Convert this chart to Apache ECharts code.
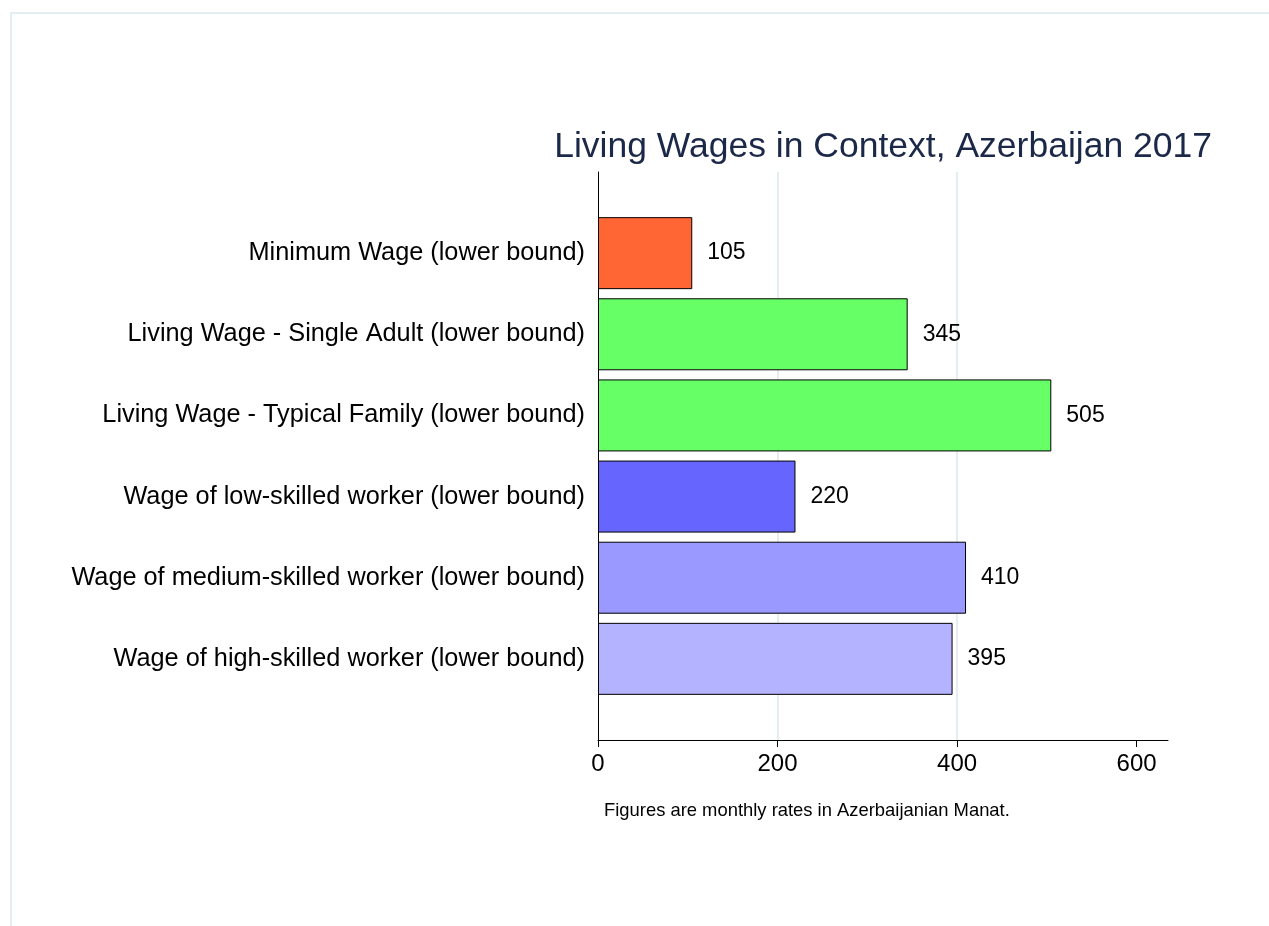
<!DOCTYPE html>
<html>
<head>
<meta charset="utf-8">
<script src="https://cdn.jsdelivr.net/npm/echarts@6/dist/echarts.min.js"></script>
<style>
html,body{margin:0;padding:0;background:#fff;}
#chart{width:1269px;height:926px;}
</style>
</head>
<body>
<div id="chart"></div>
<script>
const categories = [
  'Minimum Wage (lower bound)',
  'Living Wage - Single Adult (lower bound)',
  'Living Wage - Typical Family (lower bound)',
  'Wage of low-skilled worker (lower bound)',
  'Wage of medium-skilled worker (lower bound)',
  'Wage of high-skilled worker (lower bound)'
];
const values = [105, 345, 505, 220, 410, 395];
const barColors = ['#FF6633', '#66FF66', '#66FF66', '#6666FF', '#9999FF', '#B3B3FF'];
const xTicks = [0, 200, 400, 600];
const titleText = 'Living Wages in Context, Azerbaijan 2017';
const noteText = 'Figures are monthly rates in Azerbaijanian Manat.';

const FONT = '"Liberation Sans", Arial, sans-serif';

// pad with empty slots above and below so bars sit inside the axis frame
const yCats = [''].concat(categories, ['']);
const barData = ['-'].concat(values.map((v, i) => ({
  value: v,
  itemStyle: { color: barColors[i] }
})), ['-']);

const chart = echarts.init(document.getElementById('chart'), null, { renderer: 'canvas' });
chart.setOption({
  backgroundColor: '#ffffff',
  animation: false,
  title: {
    text: titleText,
    right: 52,
    top: 124,
    textStyle: { fontFamily: FONT, fontSize: 35.5, fontWeight: 'normal', color: '#1c2848' }
  },
  grid: { left: 598, right: 101, top: 172, bottom: 186, containLabel: false },
  xAxis: {
    type: 'value',
    min: 0,
    max: 635,
    interval: 200,
    axisLine: { show: true, lineStyle: { color: '#000', width: 1 } },
    axisTick: { show: true, length: 7, customValues: xTicks, lineStyle: { color: '#000' } },
    axisLabel: { customValues: xTicks, fontFamily: FONT, fontSize: 24, color: '#000', margin: 12 },
    splitLine: { show: true, showMinLine: false, showMaxLine: false, lineStyle: { color: '#e4edf0', width: 2 } }
  },
  yAxis: {
    type: 'category',
    data: yCats,
    inverse: true,
    boundaryGap: false,
    axisLine: { show: true, lineStyle: { color: '#000', width: 1 } },
    axisTick: { show: false },
    axisLabel: { fontFamily: FONT, fontSize: 25.3, color: '#000', margin: 13 },
    splitLine: { show: false }
  },
  series: [{
    type: 'bar',
    data: barData,
    barWidth: 72,
    itemStyle: { borderColor: '#000', borderWidth: 1 },
    label: {
      show: true,
      position: 'right',
      distance: 15,
      fontFamily: FONT,
      fontSize: 23,
      color: '#000'
    }
  }],
  graphic: [
    { type: 'line', shape: { x1: 10, y1: 13, x2: 1269, y2: 13 }, style: { stroke: '#e4edf0', lineWidth: 2 } },
    { type: 'line', shape: { x1: 11, y1: 13, x2: 11, y2: 926 }, style: { stroke: '#e4edf0', lineWidth: 2 } },
    { type: 'text', left: 604, top: 802, style: { text: noteText, font: '18.4px ' + FONT, fill: '#000' } }
  ]
});
</script>
</body>
</html>
